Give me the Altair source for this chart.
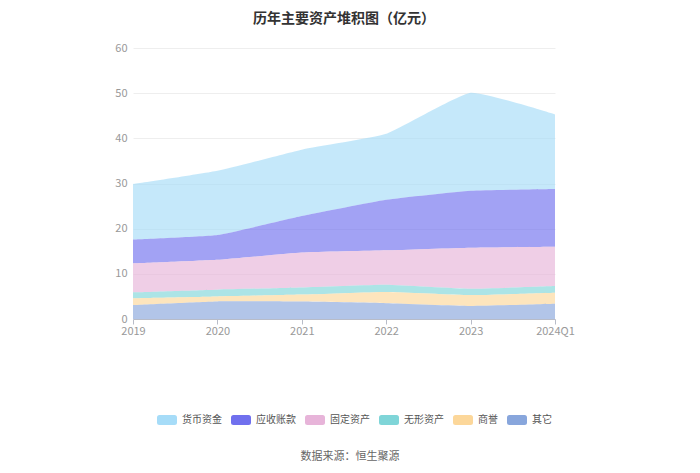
import altair as alt
import pandas as pd

years = ["2019", "2020", "2021", "2022", "2023", "2024Q1"]
series = ["货币资金", "应收账款", "固定资产", "无形资产", "商誉", "其它"]
colors = ["#a6dcf8", "#7070ee", "#e7b4d9", "#7fd5d8", "#fcd79a", "#88a6dc"]

cash = [12.25, 14.2, 14.7, 14.6, 21.7, 16.5]
receivable = [5.3, 5.5, 8.1, 11.2, 12.6, 12.8]
fixed = [6.4, 6.6, 7.7, 7.6, 9.1, 8.7]
intangible = [1.3, 1.5, 1.6, 1.6, 1.4, 1.5]
goodwill = [1.5, 1.1, 1.55, 2.5, 2.4, 2.4]
other = [3.1, 3.9, 3.85, 3.5, 2.9, 3.4]

values = [cash, receivable, fixed, intangible, goodwill, other]
rows = []
for si, (name, vals) in enumerate(zip(series, values)):
    for y, v in zip(years, vals):
        rows.append({"year": y, "series": name, "value": v, "order": len(series) - si})
df = pd.DataFrame(rows)

FONT = "Noto Sans CJK SC"
rr = "M-0.75,-0.5 H0.75 Q1,-0.5 1,-0.25 V0.25 Q1,0.5 0.75,0.5 H-0.75 Q-1,0.5 -1,0.25 V-0.25 Q-1,-0.5 -0.75,-0.5 Z"

area = alt.Chart(df).mark_area(interpolate="cardinal", tension=0.6, opacity=0.65).encode(
    x=alt.X("year:O", sort=years, scale=alt.Scale(type="point", padding=0),
            axis=alt.Axis(title=None, labelAngle=0, labelColor="#999999", labelFont=FONT,
                          labelFontSize=11, domainColor="#b8bcc8", tickColor="#b8bcc8",
                          tickSize=5, labelPadding=1, grid=False)),
    y=alt.Y("value:Q", stack="zero", scale=alt.Scale(domain=[0, 60]),
            axis=alt.Axis(title=None, values=[0, 10, 20, 30, 40, 50, 60], labelColor="#999999",
                          labelFont=FONT, labelFontSize=11, domain=False, ticks=False,
                          gridColor="#eeeeee", labelPadding=6)),
    color=alt.Color("series:N", scale=alt.Scale(domain=series, range=colors),
                    legend=alt.Legend(title=None, orient="none", direction="horizontal",
                                      legendX=24, legendY=362, symbolType=rr, symbolSize=400,
                                      symbolOpacity=1, symbolStrokeWidth=0,
                                      labelFont=FONT, labelFontSize=10, labelColor="#555555",
                                      columnPadding=9, labelOffset=5)),
    order=alt.Order("order:Q", sort="ascending"),
)

src = alt.Chart(pd.DataFrame({"t": ["数据来源：恒生聚源"]})).mark_text(
    font=FONT, fontSize=11, color="#666666", align="center", baseline="middle"
).encode(text="t:N", x=alt.value(217), y=alt.value(409))

chart = alt.layer(area, src).properties(
    width=422, height=271,
    padding={"left": 125, "top": 40, "right": 137, "bottom": 146},
    autosize=alt.AutoSizeParams(type="none"),
    title=alt.TitleParams("历年主要资产堆积图（亿元）", font=FONT, fontSize=14, fontWeight="bold",
                          color="#333333", anchor="middle", offset=16),
).configure_view(stroke=None)

chart.save("out.html", embed_options={"renderer": "svg", "actions": False})
